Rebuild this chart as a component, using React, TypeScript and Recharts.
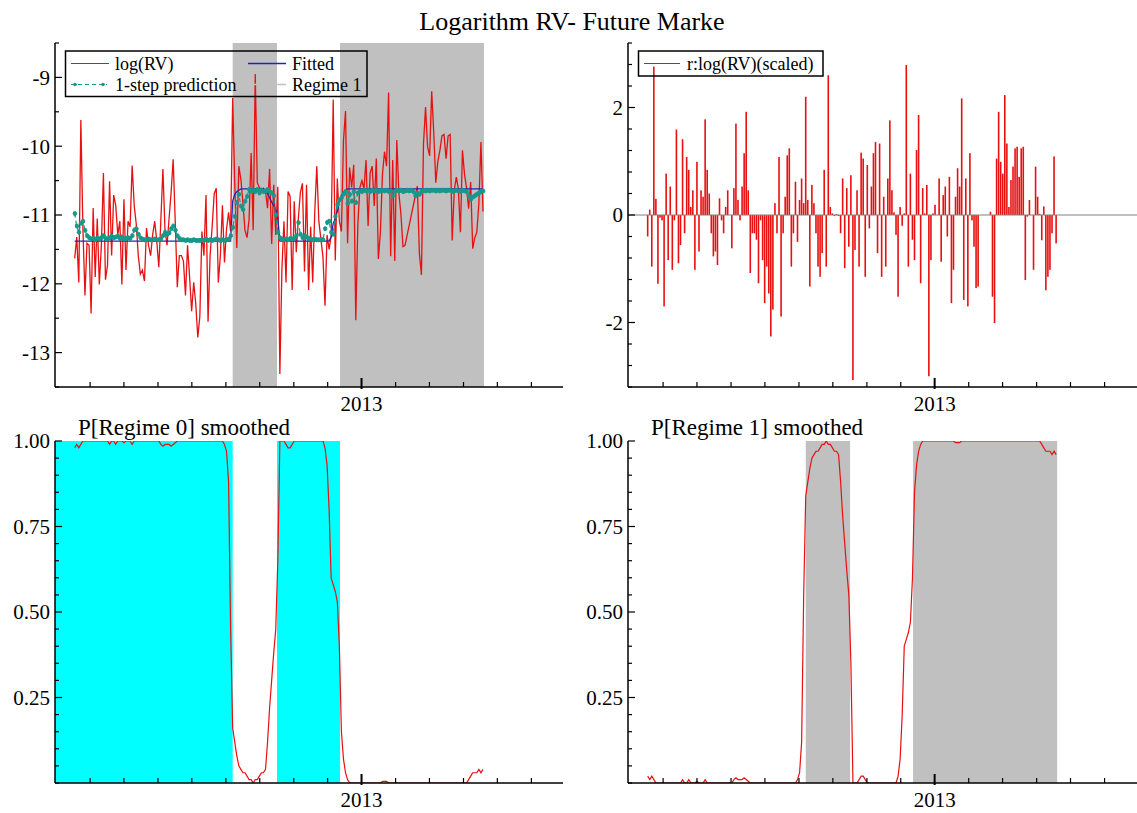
import React from 'react';
import { ComposedChart, Line, Bar, XAxis, YAxis, ReferenceArea, ReferenceLine } from 'recharts';

const FONT = '"Liberation Serif", "Times New Roman", serif';
const RED = '#e81010';
const BLUE = '#2424b4';
const TEAL = '#17988a';
const GREY = '#c0c0c0';
const CYAN = '#00ffff';

// trading-day index on the x axis; month ticks, 2013 is the labelled one
const X_MIN = -9.6;
const X_MAX_L = 238;
const X_MAX_R = 238.4;
const X_TICKS = [7.5, 24.0, 40.6, 57.1, 73.7, 90.2, 106.8, 123.3, 139.8, 156.4, 172.9, 189.5, 206.0, 222.6];
const X_MAJOR = [139.8];
const X_MAJOR_LABELS = ['2013'];

// regime classification bands
const R1_START = [77, 129.3];
const R1_END = [98.6, 199.5];
const R0_START = [-9.6, 98.6];
const R0_END = [77, 129.3];

const LOG_RV = [
  -11.63, -11.32, -11.98, -9.62, -11.19, -12.17, -11.41, -11.44, -12.43, -10.90,
  -11.90, -11.05, -12.01, -11.44, -10.39, -11.94, -11.73, -10.51, -11.59, -10.71,
  -10.86, -11.29, -11.09, -12.01, -10.77, -11.80, -11.09, -11.17, -10.28, -10.86,
  -11.13, -11.59, -11.86, -11.80, -11.96, -11.19, -11.44, -11.59, -11.29, -11.09,
  -11.38, -11.76, -11.07, -10.33, -11.21, -11.44, -11.05, -10.67, -10.19, -11.09,
  -12.05, -11.59, -11.59, -11.67, -12.17, -11.44, -11.90, -12.40, -11.98, -12.29,
  -12.78, -12.47, -11.24, -11.59, -10.71, -12.55, -11.59, -11.17, -10.69, -10.61,
  -11.98, -11.59, -10.86, -11.69, -11.21, -10.96, -11.24, -9.30, -10.53, -11.48,
  -10.29, -10.48, -10.83, -11.22, -11.33, -11.06, -10.10, -11.22, -8.95, -10.53,
  -10.60, -10.63, -10.61, -10.66, -10.90, -10.33, -11.42, -10.56, -11.29, -10.59,
  -13.31, -11.78, -11.09, -11.98, -10.66, -10.73, -12.09, -10.80, -11.54, -11.05,
  -10.67, -10.54, -11.82, -10.56, -12.09, -11.17, -11.98, -10.96, -10.29, -11.09,
  -11.35, -11.61, -12.32, -11.29, -11.50, -11.30, -9.32, -11.66, -10.47, -11.09,
  -11.24, -9.92, -9.49, -11.41, -10.31, -10.60, -10.27, -12.53, -11.14, -10.60,
  -10.50, -10.62, -10.20, -11.16, -10.39, -10.29, -10.87, -10.18, -11.64, -11.25,
  -10.41, -10.08, -10.29, -9.22, -11.60, -10.20, -11.67, -9.91, -10.68, -10.99,
  -11.46, -11.44, null, null, null, null, null, -10.58, -11.56, -11.87,
  -9.97, -9.43, -10.01, -10.14, -9.20, -9.80, -10.53, -10.22, -10.06, -9.85,
  -9.83, -10.18, -9.85, -9.83, -11.37, -10.64, -10.45, -10.62, -11.25, -10.06,
  -10.41, -10.61, -10.91, -10.52, -11.49, -11.33, -11.25, -10.83, -9.94, -10.95,
];

const FITTED = [
  -11.38, -11.38, -11.38, -11.38, -11.38, -11.38, -11.38, -11.38, -11.38, -11.38,
  -11.38, -11.38, -11.38, -11.38, -11.38, -11.38, -11.38, -11.38, -11.38, -11.38,
  -11.38, -11.38, -11.38, -11.38, -11.38, -11.38, -11.38, -11.38, -11.38, -11.38,
  -11.38, -11.38, -11.38, -11.38, -11.38, -11.38, -11.38, -11.38, -11.38, -11.38,
  -11.38, -11.38, -11.38, -11.38, -11.38, -11.38, -11.38, -11.38, -11.38, -11.38,
  -11.38, -11.38, -11.38, -11.38, -11.38, -11.38, -11.38, -11.38, -11.38, -11.38,
  -11.38, -11.38, -11.38, -11.38, -11.38, -11.38, -11.38, -11.38, -11.38, -11.38,
  -11.38, -11.38, -11.38, -11.38, -11.38, -11.38, -11.38, -10.80, -10.70, -10.66,
  -10.64, -10.62, -10.62, -10.62, -10.62, -10.62, -10.62, -10.62, -10.62, -10.62,
  -10.62, -10.62, -10.62, -10.65, -10.69, -10.75, -10.81, -10.87, -10.92, -11.05,
  -11.38, -11.38, -11.38, -11.38, -11.38, -11.38, -11.38, -11.38, -11.38, -11.38,
  -11.38, -11.38, -11.38, -11.38, -11.38, -11.38, -11.38, -11.38, -11.38, -11.38,
  -11.38, -11.38, -11.38, -11.38, -11.38, -11.32, -11.12, -11.06, -10.95, -10.80,
  -10.72, -10.67, -10.64, -10.62, -10.62, -10.62, -10.62, -10.62, -10.62, -10.62,
  -10.62, -10.62, -10.62, -10.62, -10.62, -10.62, -10.62, -10.62, -10.62, -10.62,
  -10.62, -10.62, -10.62, -10.62, -10.62, -10.62, -10.62, -10.62, -10.62, -10.62,
  -10.62, -10.62, -10.62, -10.62, -10.62, -10.62, -10.62, -10.62, -10.62, -10.62,
  -10.62, -10.62, -10.62, -10.62, -10.62, -10.62, -10.62, -10.62, -10.62, -10.62,
  -10.62, -10.62, -10.62, -10.62, -10.62, -10.62, -10.62, -10.62, -10.62, -10.62,
  -10.62, -10.62, -10.62, -10.62, -10.62, -10.62, -10.62, -10.62, -10.62, -10.62,
];

const PRED = [
  -10.98, -11.16, -11.25, -11.12, -11.09, -11.22, -11.30, -11.33, -11.35, -11.34,
  -11.36, -11.33, -11.35, -11.33, -11.30, -11.34, -11.35, -11.33, -11.31, -11.33,
  -11.32, -11.31, -11.34, -11.32, -11.35, -11.34, -11.33, -11.34, -11.30, -11.22,
  -11.20, -11.28, -11.33, -11.35, -11.36, -11.36, -11.35, -11.36, -11.36, -11.35,
  -11.36, -11.36, -11.35, -11.30, -11.25, -11.28, -11.26, -11.20, -11.16, -11.22,
  -11.30, -11.34, -11.36, -11.36, -11.37, -11.36, -11.37, -11.37, -11.36, -11.37,
  -11.37, -11.37, -11.36, -11.37, -11.35, -11.37, -11.36, -11.37, -11.36, -11.35,
  -11.36, -11.37, -11.36, -11.37, -11.36, -11.35, -11.30, -11.18, -11.02, -10.82,
  -10.70, -10.87, -10.92, -10.80, -10.73, -10.63, -10.65, -10.64, -10.66, -10.63,
  -10.68, -10.64, -10.66, -10.65, -10.63, -10.66, -10.68, -10.72, -11.00, -11.25,
  -11.33, -11.35, -11.36, -11.35, -11.36, -11.34, -11.35, -11.34, -11.30, -11.11,
  -11.28, -11.33, -11.30, -11.32, -11.34, -11.35, -11.36, -11.35, -11.36, -11.36,
  -11.36, -11.36, -11.20, -11.11, -11.09, -11.25, -11.28, -11.02, -10.85, -10.78,
  -10.75, -10.70, -10.66, -10.83, -10.70, -10.80, -10.66, -10.82, -10.68, -10.65,
  -10.66, -10.64, -10.65, -10.64, -10.66, -10.64, -10.65, -10.64, -10.66, -10.65,
  -10.64, -10.65, -10.64, -10.66, -10.65, -10.72, -10.66, -10.64, -10.65, -10.64,
  -10.66, -10.65, -10.64, -10.65, -10.64, -10.66, -10.72, -10.68, -10.70, -10.66,
  -10.64, -10.65, -10.64, -10.65, -10.64, -10.64, -10.65, -10.64, -10.65, -10.64,
  -10.64, -10.65, -10.64, -10.64, -10.66, -10.65, -10.64, -10.65, -10.66, -10.64,
  -10.65, -10.66, -10.72, -10.77, -10.74, -10.72, -10.70, -10.68, -10.66, -10.65,
];

const RESID = [
  -0.40, 0.10, -0.96, 2.76, 0.30, -1.28, -0.05, -0.10, -1.70, 0.77,
  -0.84, 0.53, -1.02, -0.10, 1.59, -0.90, -0.56, 1.41, -0.34, 1.08,
  0.84, 0.15, 0.46, -1.02, 0.99, -0.68, 0.46, 0.34, 1.78, 0.84,
  0.40, -0.34, -0.77, -0.68, -0.93, 0.31, -0.10, -0.34, 0.15, 0.46,
  0.00, -0.62, 0.50, 1.70, 0.28, -0.10, 0.53, 1.15, 1.92, 0.46,
  -1.08, -0.34, -0.34, -0.46, -1.27, -0.10, -0.84, -1.64, -0.96, -1.46,
  -2.26, -1.76, 0.22, -0.34, 1.08, -1.89, -0.34, 0.34, 1.11, 1.24,
  -0.96, -0.34, 0.62, -0.50, 0.28, 0.68, 0.22, 2.20, 0.28, -1.33,
  0.56, 0.22, -0.34, -0.96, -1.15, -0.71, 0.84, -0.96, 2.60, 0.15,
  0.03, -0.02, 0.02, -0.02, -0.34, 0.68, -0.99, 0.50, -0.59, 0.74,
  -3.07, -0.65, 0.46, -0.96, 1.16, 1.05, -1.15, 0.93, -0.25, 0.53,
  1.15, 1.36, -0.71, 1.33, -1.15, 0.34, -0.96, 0.68, 1.76, 0.46,
  0.05, -0.37, -1.52, 0.15, -0.20, 0.03, 2.79, -0.96, 0.77, -0.46,
  -0.84, 1.21, 1.86, -1.27, 0.50, 0.03, 0.56, -3.00, -0.84, 0.03,
  0.19, 0.00, 0.68, -0.87, 0.37, 0.53, -0.40, 0.71, -1.64, -1.02,
  0.34, 0.87, 0.53, 2.17, -1.58, 0.68, -1.70, 1.15, -0.10, -0.59,
  -1.36, -1.33, null, null, null, null, null, 0.06, -1.52, -2.01,
  1.05, 1.92, 0.99, 0.77, 2.23, 1.33, 0.15, 0.65, 0.90, 1.24,
  1.27, 0.71, 1.24, 1.27, -1.21, -0.03, 0.28, 0.00, -1.02, 0.90,
  0.34, 0.02, -0.47, 0.16, -1.40, -1.15, -1.02, -0.34, 1.09, -0.53,
];

const P0 = [
  0.98, 0.99, 0.98, 0.99, 1, 1, 1, 1, 1, 1,
  1, 1, 1, 1, 1, 1, 1, 0.99, 1, 1,
  0.99, 1, 1, 1, 0.995, 1, 1, 1, 0.99, 1,
  1, 1, 1, 1, 1, 1, 1, 1, 1, 1,
  1, 1, 0.99, 0.985, 0.99, 0.99, 0.99, 0.985, 0.99, 0.995,
  1, 1, 1, 1, 1, 1, 1, 1, 1, 1,
  1, 1, 1, 1, 1, 1, 1, 1, 1, 1,
  1, 1, 1, 0.99, 0.97, 0.88, 0.45, 0.16, 0.12, 0.08,
  0.05, 0.04, 0.03, 0.03, 0.02, 0.01, 0.01, 0, 0.01, 0.01,
  0.02, 0.03, 0.03, 0.04, 0.12, 0.22, 0.30, 0.38, 0.45, 0.65,
  1, 1, 1, 0.99, 0.98, 0.98, 0.99, 1, 1, 1,
  1, 1, 1, 1, 1, 1, 1, 1, 1, 1,
  1, 1, 0.98, 0.93, 0.80, 0.60, 0.58, 0.56, 0.53, 0.40,
  0.15, 0.07, 0.03, 0.01, 0, 0, 0, 0, 0, 0,
  0, 0, 0, 0, 0, 0, 0, 0, 0, 0,
  0.005, 0.005, 0.005, 0, 0, 0, 0, 0, 0, 0,
  0, 0, 0, 0, 0, 0, 0, 0, 0, 0,
  0, 0, 0, 0, 0, 0, 0, 0, 0, 0,
  0, 0, 0, 0, 0, 0, 0, 0, 0, 0,
  0, 0, 0.01, 0.02, 0.03, 0.03, 0.03, 0.04, 0.03, 0.04,
];

const P1 = [
  0.02, 0.01, 0.02, 0.01, 0, 0, 0, 0, 0, 0,
  0, 0, 0, 0, 0, 0, 0, 0.01, 0, 0,
  0.01, 0, 0, 0, 0.005, 0, 0, 0, 0.01, 0,
  0, 0, 0, 0, 0, 0, 0, 0, 0, 0,
  0, 0, 0.01, 0.015, 0.01, 0.01, 0.01, 0.015, 0.01, 0.005,
  0, 0, 0, 0, 0, 0, 0, 0, 0, 0,
  0, 0, 0, 0, 0, 0, 0, 0, 0, 0,
  0, 0, 0, 0.01, 0.03, 0.12, 0.55, 0.84, 0.88, 0.92,
  0.95, 0.96, 0.97, 0.97, 0.98, 0.99, 0.99, 1, 0.99, 0.99,
  0.98, 0.97, 0.97, 0.96, 0.88, 0.78, 0.70, 0.62, 0.55, 0.35,
  0, 0, 0, 0.01, 0.02, 0.02, 0.01, 0, 0, 0,
  0, 0, 0, 0, 0, 0, 0, 0, 0, 0,
  0, 0, 0.02, 0.07, 0.20, 0.40, 0.42, 0.44, 0.47, 0.60,
  0.85, 0.93, 0.97, 0.99, 1, 1, 1, 1, 1, 1,
  1, 1, 1, 1, 1, 1, 1, 1, 1, 1,
  0.995, 0.995, 0.995, 1, 1, 1, 1, 1, 1, 1,
  1, 1, 1, 1, 1, 1, 1, 1, 1, 1,
  1, 1, 1, 1, 1, 1, 1, 1, 1, 1,
  1, 1, 1, 1, 1, 1, 1, 1, 1, 1,
  1, 1, 0.99, 0.98, 0.97, 0.97, 0.97, 0.96, 0.97, 0.96,
];

// y ticks: minor list plus the labelled majors
const TL_TICKS = [-13.5, -13, -12.5, -12, -11.5, -11, -10.5, -10, -9.5, -9, -8.5];
const TL_MAJOR = [-13, -12, -11, -10, -9];
const TL_LABELS = ['-13', '-12', '-11', '-10', '-9'];
const TR_TICKS = [-3.2, -2.8, -2.4, -2, -1.6, -1.2, -0.8, -0.4, 0, 0.4, 0.8, 1.2, 1.6, 2, 2.4, 2.8, 3.2];
const TR_MAJOR = [-2, 0, 2];
const TR_LABELS = ['-2', '0', '2'];
const P_TICKS = [0, 0.05, 0.1, 0.15, 0.2, 0.25, 0.3, 0.35, 0.4, 0.45, 0.5, 0.55, 0.6, 0.65, 0.7, 0.75, 0.8, 0.85, 0.9, 0.95, 1];
const P_MAJOR = [0.25, 0.5, 0.75, 1];
const P_LABELS = ['0.25', '0.50', '0.75', '1.00'];

const rows = LOG_RV.map((v, i) => ({
  t: i,
  logRV: v,
  fitted: FITTED[i],
  pred: PRED[i],
  resid: RESID[i],
  p0: P0[i],
  p1: P1[i],
}));

function XTick(props: any) {
  const { x, y, payload } = props;
  const k = X_MAJOR.findIndex((m) => Math.abs(m - payload.value) < 1e-6);
  const major = k >= 0;
  return (
    <g>
      <line x1={x} x2={x} y1={major ? y + 2 : y} y2={major ? y - 9 : y - 5} stroke="#000" strokeWidth={major ? 2 : 1.2} />
      {major && (
        <text x={x} y={y + 24} textAnchor="middle" fontSize={21} fontFamily={FONT} fill="#000">
          {X_MAJOR_LABELS[k]}
        </text>
      )}
    </g>
  );
}

function makeYTick(majors: number[], labels: string[]) {
  return (props: any) => {
    const { x, y, payload } = props;
    const k = majors.findIndex((m) => Math.abs(m - payload.value) < 1e-6);
    return (
      <g>
        <line x1={x} x2={x + (k >= 0 ? 7 : 4)} y1={y} y2={y} stroke="#000" strokeWidth={1.2} />
        {k >= 0 && (
          <text x={x - 5} y={y} dy="0.35em" textAnchor="end" fontSize={21} fontFamily={FONT} fill="#000">
            {labels[k]}
          </text>
        )}
      </g>
    );
  };
}

// thin solid needle for each residual
function Needle(props: any) {
  const { x, y, width, height } = props;
  if (!Number.isFinite(y) || !Number.isFinite(height) || height === 0) return <g />;
  const top = Math.min(y, y + height);
  return <rect x={x + width / 2 - 0.8} y={top} width={1.6} height={Math.abs(height)} fill={RED} />;
}

const axisLine = { stroke: '#000', strokeWidth: 1.5 };

function xAxis(max: number, height: number) {
  return (
    <XAxis
      dataKey="t"
      type="number"
      domain={[X_MIN, max]}
      ticks={X_TICKS}
      interval={0}
      tickSize={0}
      tickMargin={0}
      tickLine={false}
      tick={XTick}
      axisLine={axisLine}
      height={height}
      allowDataOverflow
    />
  );
}

export default function App() {
  return (
    <div style={{ position: 'absolute', left: 0, top: 0, width: 1137, height: 813, background: '#fff' }}>
      {/* log(RV), fitted and 1-step prediction */}
      <div style={{ position: 'absolute', left: 0, top: 0 }}>
        <ComposedChart width={570} height={420} data={rows} margin={{ top: 43, right: 7, bottom: 0, left: 0 }}>
          {R1_START.map((s, i) => (
            <ReferenceArea key={i} x1={s} x2={R1_END[i]} y1={-13.5} y2={-8.5} fill={GREY} fillOpacity={1} stroke="none" />
          ))}
          {xAxis(X_MAX_L, 33)}
          <YAxis type="number" domain={[-13.5, -8.5]} ticks={TL_TICKS} interval={0} tickSize={0} tickMargin={0}
            tickLine={false} tick={makeYTick(TL_MAJOR, TL_LABELS)} axisLine={axisLine} width={55} allowDataOverflow />
          <Line dataKey="logRV" type="linear" stroke={RED} strokeWidth={1.3} dot={false} connectNulls isAnimationActive={false} />
          <Line dataKey="fitted" type="linear" stroke={BLUE} strokeWidth={1.3} dot={false} isAnimationActive={false} />
          <Line dataKey="pred" type="linear" stroke={TEAL} strokeWidth={1.2} strokeDasharray="4 3"
            dot={{ r: 2, fill: TEAL, stroke: TEAL, strokeWidth: 1 }} isAnimationActive={false} />
        </ComposedChart>
      </div>

      {/* scaled residuals */}
      <div style={{ position: 'absolute', left: 570, top: 0 }}>
        <ComposedChart width={567} height={420} data={rows} margin={{ top: 43, right: 0, bottom: 0, left: 0 }}>
          {xAxis(X_MAX_R, 33)}
          <YAxis type="number" domain={[-3.2, 3.2]} ticks={TR_TICKS} interval={0} tickSize={0} tickMargin={0}
            tickLine={false} tick={makeYTick(TR_MAJOR, TR_LABELS)} axisLine={axisLine} width={58} allowDataOverflow />
          <ReferenceLine y={0} stroke="#808080" strokeWidth={1} />
          <Bar dataKey="resid" fill={RED} barSize={2} shape={Needle} isAnimationActive={false} />
        </ComposedChart>
      </div>

      {/* P[Regime 0] smoothed */}
      <div style={{ position: 'absolute', left: 0, top: 410 }}>
        <ComposedChart width={570} height={403} data={rows} margin={{ top: 31, right: 7, bottom: 0, left: 0 }}>
          {R0_START.map((s, i) => (
            <ReferenceArea key={i} x1={s} x2={R0_END[i]} y1={0} y2={1} fill={CYAN} fillOpacity={1} stroke="none" />
          ))}
          {xAxis(X_MAX_L, 30)}
          <YAxis type="number" domain={[0, 1]} ticks={P_TICKS} interval={0} tickSize={0} tickMargin={0}
            tickLine={false} tick={makeYTick(P_MAJOR, P_LABELS)} axisLine={axisLine} width={55} allowDataOverflow />
          <Line dataKey="p0" type="linear" stroke={RED} strokeWidth={1.2} dot={false} isAnimationActive={false} />
        </ComposedChart>
      </div>

      {/* P[Regime 1] smoothed */}
      <div style={{ position: 'absolute', left: 570, top: 410 }}>
        <ComposedChart width={567} height={403} data={rows} margin={{ top: 31, right: 0, bottom: 0, left: 0 }}>
          {R1_START.map((s, i) => (
            <ReferenceArea key={i} x1={s} x2={R1_END[i]} y1={0} y2={1} fill={GREY} fillOpacity={1} stroke="none" />
          ))}
          {xAxis(X_MAX_R, 30)}
          <YAxis type="number" domain={[0, 1]} ticks={P_TICKS} interval={0} tickSize={0} tickMargin={0}
            tickLine={false} tick={makeYTick(P_MAJOR, P_LABELS)} axisLine={axisLine} width={58} allowDataOverflow />
          <Line dataKey="p1" type="linear" stroke={RED} strokeWidth={1.2} dot={false} isAnimationActive={false} />
        </ComposedChart>
      </div>

      {/* titles and legends */}
      <svg width={1137} height={813} style={{ position: 'absolute', left: 0, top: 0, pointerEvents: 'none' }}
        fontFamily={FONT} fill="#000">
        <text x={572} y={30} textAnchor="middle" fontSize={26}>Logarithm RV- Future Marke</text>
        <text x={78} y={435} fontSize={23}>P[Regime 0] smoothed</text>
        <text x={651} y={435} fontSize={23}>P[Regime 1] smoothed</text>

        <rect x={65.5} y={51} width={301.5} height={45.5} fill="none" stroke="#000" strokeWidth={1.5} />
        <line x1={71} x2={109} y1={63.5} y2={63.5} stroke={RED} strokeWidth={1.2} />
        <text x={115} y={69.5} fontSize={18}>log(RV)</text>
        <line x1={71} x2={107} y1={84.5} y2={84.5} stroke={TEAL} strokeWidth={1.2} strokeDasharray="4 3" />
        <circle cx={75} cy={84.5} r={1.8} fill={TEAL} />
        <circle cx={103} cy={84.5} r={1.8} fill={TEAL} />
        <text x={115} y={90.5} fontSize={18}>1-step prediction</text>
        <line x1={248} x2={286} y1={63.5} y2={63.5} stroke={BLUE} strokeWidth={1.3} />
        <text x={292} y={69.5} fontSize={18}>Fitted</text>
        <line x1={248} x2={286} y1={84.5} y2={84.5} stroke={GREY} strokeWidth={1.5} />
        <text x={292} y={90.5} fontSize={18}>Regime 1</text>

        <rect x={638.5} y={51} width={184.5} height={25} fill="none" stroke="#000" strokeWidth={1.5} />
        <line x1={644} x2={680} y1={63.5} y2={63.5} stroke={RED} strokeWidth={1.2} />
        <text x={687} y={69.5} fontSize={18}>r:log(RV)(scaled)</text>
      </svg>
    </div>
  );
}
